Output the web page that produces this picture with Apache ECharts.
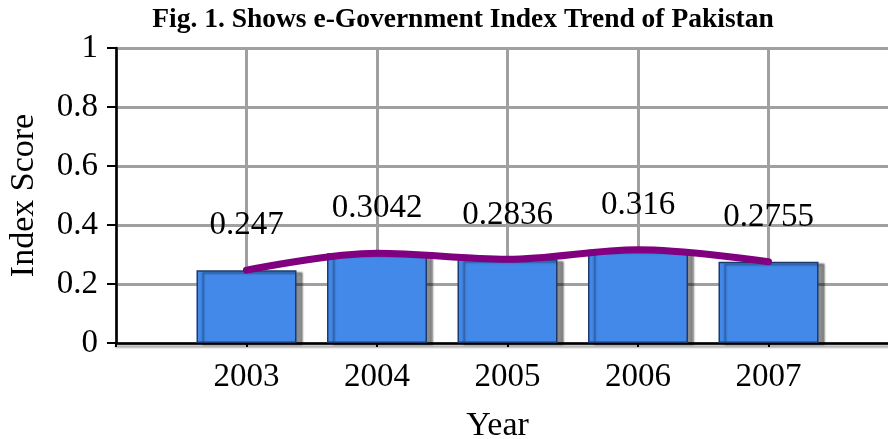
<!DOCTYPE html>
<html><head><meta charset="utf-8">
<script src="https://cdn.jsdelivr.net/npm/echarts@6/dist/echarts.min.js"></script>
<style>html,body{margin:0;padding:0;background:#fff}#c{width:888px;height:439px}</style>
</head><body><div id="c"></div>
<script>
var years = ['2003', '2004', '2005', '2006', '2007'];
var scores = [0.247, 0.3042, 0.2836, 0.316, 0.2755];
var yTicks = [0, 0.2, 0.4, 0.6, 0.8, 1];

var FONT = '"Liberation Serif", "Times New Roman", serif';
var xData = [''].concat(years).concat(['']);
var sData = [null].concat(scores).concat([null]);

var chart = echarts.init(document.getElementById('c'), null, {renderer: 'canvas'});
chart.setOption({
  animation: false,
  backgroundColor: '#fff',
  title: {
    text: 'Fig. 1. Shows e-Government Index Trend of Pakistan',
    left: 458, top: 1, textAlign: 'center',
    textStyle: {fontFamily: FONT, fontWeight: 'bold', fontSize: 27.5, color: '#000'}
  },
  grid: {left: 116, top: 48, width: 783, height: 295, outerBoundsMode: 'none', containLabel: false},
  xAxis: {
    type: 'category', data: xData, boundaryGap: false,
    name: 'Year', nameLocation: 'middle', nameGap: 66,
    nameTextStyle: {fontFamily: FONT, fontSize: 34, color: '#000', padding: [0, 20, 0, 0]},
    axisLine: {lineStyle: {color: '#000', width: 2.5, shadowColor: 'rgba(0,0,0,0.35)', shadowOffsetY: 3, shadowBlur: 2}},
    axisTick: {show: true, length: 4, lineStyle: {color: '#000', width: 2}},
    axisLabel: {fontFamily: FONT, fontSize: 33, color: '#000', margin: 18},
    splitLine: {show: true, lineStyle: {color: '#a0a0a0', width: 3}}
  },
  yAxis: {
    type: 'value', min: 0, max: 1, interval: 0.2,
    name: 'Index Score', nameLocation: 'middle', nameGap: 75, nameRotate: 90,
    nameTextStyle: {fontFamily: FONT, fontSize: 34, color: '#000'},
    axisLine: {show: true, lineStyle: {color: '#000', width: 2.5}},
    axisTick: {show: true, length: 9, lineStyle: {color: '#000', width: 2}},
    axisLabel: {fontFamily: FONT, fontSize: 33, color: '#000', margin: 18,
      formatter: function (v) { return yTicks.indexOf(+v.toFixed(1)) >= 0 ? String(+v.toFixed(1)) : ''; }},
    splitLine: {show: true, lineStyle: {color: '#a0a0a0', width: 3}}
  },
  series: [
    {
      type: 'bar', data: sData, barWidth: 100,
      itemStyle: {color: '#4289ea', borderColor: '#1c3a6e', borderWidth: 1.5,
        shadowColor: 'rgba(0,0,0,0.45)', shadowOffsetX: 6, shadowOffsetY: 2, shadowBlur: 2},
      label: {show: true, position: 'top', distance: 28, fontFamily: FONT, fontSize: 33, color: '#000',
        formatter: function (p) { return p.value == null ? '' : String(p.value); }},
      labelLayout: {hideOverlap: false},
      z: 2
    },
    {
      type: 'line', data: sData, smooth: 0.35, symbol: 'none', z: 5,
      lineStyle: {color: '#800080', width: 7, cap: 'round'}
    }
  ]
});
</script></body></html>
